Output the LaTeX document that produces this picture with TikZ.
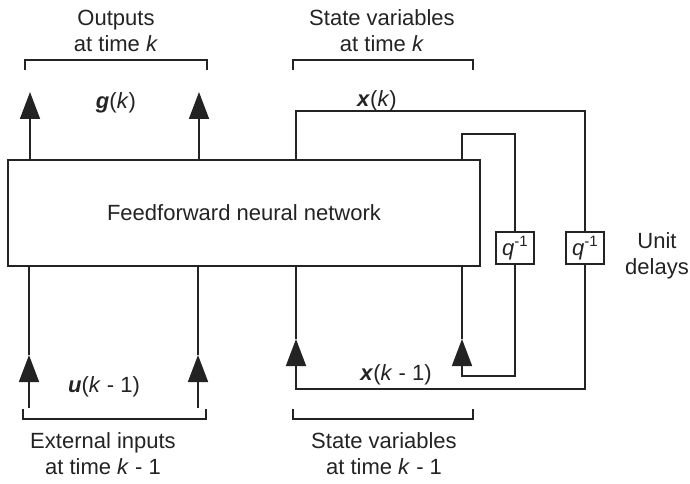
\documentclass[tikz,border=0pt]{standalone}
\usepackage{fontspec}
\setmainfont{Liberation Sans}
\usetikzlibrary{arrows.meta}
\definecolor{ink}{RGB}{35,35,35}
\newcommand{\qinv}{\textit{q}\raisebox{0.38em}{\fontsize{15}{15}\selectfont -1}}
\begin{document}
\begin{tikzpicture}[x=1pt,y=-1pt,
  line width=1.7pt, draw=ink, text=ink,
  every node/.style={font=\fontsize{22}{26}\selectfont, text=ink},
  arr/.style={-{Triangle[length=27pt,width=20pt]}},
  blockbox/.style={draw=ink, line width=1.7pt, minimum width=472pt, minimum height=106pt, inner sep=0pt},
  delaybox/.style={draw=ink, line width=1.7pt, minimum width=38pt, minimum height=32pt, inner sep=0pt},
  lbl/.style={align=center, inner sep=0pt}]
\useasboundingbox (0,0) rectangle (690,484);

% main block
\node[blockbox] (ffnn) at (244,213) {Feedforward neural network};
% delays
\node[delaybox] (d1) at (515,248) {\qinv};
\node[delaybox] (d2) at (585,248) {\qinv};
\node[lbl] (ud) at (657,256) {Unit\\delays};

% outputs
\coordinate (o1) at (30,92);
\coordinate (o2) at (199,92);
\draw[arr, ink] (o1 |- ffnn.north) -- (o1);
\draw[arr, ink] (o2 |- ffnn.north) -- (o2);
\node[lbl] (gk) at (116,103) {\textbf{\textit{g}}(\textit{k})};

% state loops (top)
\coordinate (xtop) at (296,111);
\coordinate (itop) at (462,134);
\draw[ink] (xtop |- ffnn.north) -- (xtop) -| (d2.north);
\draw[ink] (itop |- ffnn.north) -- (itop) -| (d1.north);
\node[lbl] (xk) at (377,101) {\textbf{\textit{x}}(\textit{k})};

% state loops (bottom)
\coordinate (xbot) at (296,389);
\coordinate (xtip) at (296,339);
\coordinate (ibot) at (462,376);
\coordinate (itip) at (462,339);
\draw[arr, ink] (d2.south) |- (xbot) -- (xtip);
\draw[ink] (xtip) -- (xtip |- ffnn.south);
\draw[arr, ink] (d1.south) |- (ibot) -- (itip);
\draw[ink] (itip) -- (itip |- ffnn.south);
\node[lbl] (xk1) at (396,375) {\textbf{\textit{x}}(\textit{k} - 1)};

% external inputs
\coordinate (i1s) at (29,408);
\coordinate (i1t) at (29,355);
\coordinate (i2s) at (198,408);
\coordinate (i2t) at (198,355);
\draw[arr, ink] (i1s) -- (i1t);
\draw[ink] (i1t) -- (i1t |- ffnn.south);
\draw[arr, ink] (i2s) -- (i2t);
\draw[ink] (i2t) -- (i2t |- ffnn.south);
\node[lbl] (uk) at (104,387) {\textbf{\textit{u}}(\textit{k} - 1)};

% brackets
\draw[ink] (25,70) -- (25,60) -- (207,60) -- (207,70);
\draw[ink] (293,70) -- (293,60) -- (473,60) -- (473,70);
\draw[ink] (23,409) -- (23,419) -- (206,419) -- (206,409);
\draw[ink] (293,409) -- (293,419) -- (473,419) -- (473,409);

% captions
\node[lbl] (cout) at (116,31) {Outputs\\at time \textit{k}};
\node[lbl] (cst) at (382,31) {State variables\\at time \textit{k}};
\node[lbl] (cin) at (103,454) {External inputs\\at time \textit{k} - 1};
\node[lbl] (csb) at (384,454) {State variables\\at time \textit{k} - 1};
\end{tikzpicture}
\end{document}
